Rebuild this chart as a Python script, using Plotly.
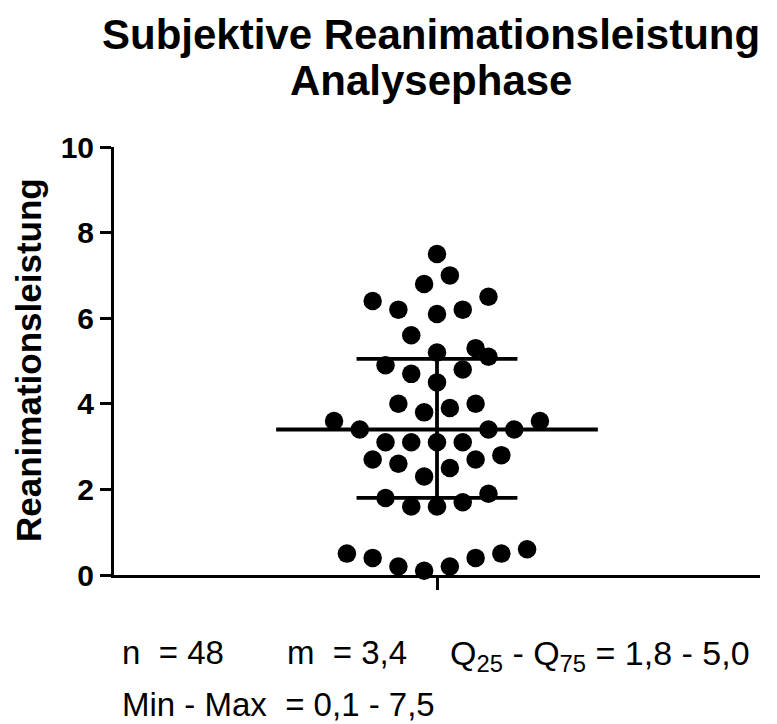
import plotly.graph_objects as go

# ---- data ----
scores = [7.5, 7.0, 6.8, 6.4, 6.2, 6.1, 6.2, 6.5,
          5.6, 5.2, 5.3, 5.1, 4.9, 4.7, 4.8, 4.5,
          4.0, 3.8, 3.9, 4.0,
          3.6, 3.4, 3.4, 3.4, 3.6,
          3.1, 3.1, 3.1, 3.1,
          2.7, 2.6, 2.7, 2.8,
          2.3, 2.5,
          1.8, 1.6, 1.6, 1.7, 1.9,
          0.5, 0.4, 0.2, 0.1, 0.2, 0.4, 0.5, 0.6]
# beeswarm column of each point (half-dot steps left/right of centre)
swarm_slot = [0, 1, -1, -5, -3, 0, 2, 4,
              -2, 0, 3, 4, -4, -2, 2, 0,
              -3, -1, 1, 3,
              -8, -6, 4, 6, 8,
              -4, -2, 0, 2,
              -5, -3, 3, 5,
              -1, 1,
              -4, -2, 0, 2, 4,
              -7, -5, -3, -1, 1, 3, 5, 7]
median_value = 3.4
q25_value = 1.8
q75_value = 5.05
y_ticks = [0, 2, 4, 6, 8, 10]

title_lines = ["Subjektive Reanimationsleistung", "Analysephase"]
y_title = "Reanimationsleistung"
stats_line1 = ["n\u00a0 = 48", "m\u00a0 = 3,4", "Q<sub>25</sub>\u00a0- Q<sub>75</sub> = 1,8 - 5,0"]
stats_line2 = "Min - Max\u00a0 = 0,1 - 7,5"

# ---- layout geometry (pixels) ----
W, H = 777, 724
L, R, T, B = 114, 777 - 760, 147, 724 - 575
PW, PH = W - L - R, H - T - B

def px(xp):
    return (xp - L) / PW

def py(yp):
    return (H - B - yp) / PH

MED_HALF = 12.5
Q_HALF = 6.25
XR = 25.1
LW = 3.8

fig = go.Figure()

# median and quartile lines
fig.add_trace(go.Scatter(x=[-MED_HALF, MED_HALF], y=[median_value, median_value],
                         mode="lines", line=dict(color="black", width=LW),
                         hoverinfo="skip", showlegend=False, cliponaxis=False))
for q in (q25_value, q75_value):
    fig.add_trace(go.Scatter(x=[-Q_HALF, Q_HALF], y=[q, q],
                             mode="lines", line=dict(color="black", width=LW),
                             hoverinfo="skip", showlegend=False, cliponaxis=False))
fig.add_trace(go.Scatter(x=[0, 0], y=[q25_value, q75_value],
                         mode="lines", line=dict(color="black", width=LW),
                         hoverinfo="skip", showlegend=False, cliponaxis=False))

# points
fig.add_trace(go.Scatter(x=swarm_slot, y=scores, mode="markers",
                         marker=dict(color="black", size=18.5, line=dict(width=0)),
                         showlegend=False, cliponaxis=False))

fig.update_layout(
    width=W, height=H,
    margin=dict(l=L, r=R, t=T, b=B, pad=0),
    paper_bgcolor="white", plot_bgcolor="white",
    showlegend=False,
    xaxis=dict(range=[-XR, XR], showgrid=False, zeroline=False,
               showline=True, linecolor="black", linewidth=3,
               tickvals=[0], ticks="outside", ticklen=12, tickwidth=3,
               tickcolor="black", showticklabels=False, fixedrange=True),
    yaxis=dict(range=[0, 10], showgrid=False, zeroline=False,
               showline=True, linecolor="black", linewidth=3,
               tickvals=y_ticks, ticks="outside", ticklen=11, tickwidth=3,
               tickcolor="black",
               tickfont=dict(family="Liberation Sans", size=30, color="black", weight="bold"),
               fixedrange=True),
)

bold = dict(family="Liberation Sans", color="black", weight="bold")
reg = dict(family="Liberation Sans", color="black", size=33)

fig.add_annotation(text=title_lines[0], xref="paper", yref="paper",
                   x=px(431), y=py(35), xanchor="center", yanchor="middle",
                   showarrow=False, font=dict(size=42, **bold))
fig.add_annotation(text=title_lines[1], xref="paper", yref="paper",
                   x=px(431), y=py(80), xanchor="center", yanchor="middle",
                   showarrow=False, font=dict(size=42, **bold))

fig.add_annotation(text=y_title, xref="paper", yref="paper",
                   x=px(28), y=py(360), xanchor="center", yanchor="middle",
                   textangle=-90, showarrow=False, font=dict(size=35, **bold))

fig.add_annotation(text=stats_line1[0], xref="paper", yref="paper",
                   x=px(120), y=py(632), xanchor="left", yanchor="top",
                   showarrow=False, font=reg)
fig.add_annotation(text=stats_line1[1], xref="paper", yref="paper",
                   x=px(285), y=py(632), xanchor="left", yanchor="top",
                   showarrow=False, font=reg)
fig.add_annotation(text=stats_line1[2], xref="paper", yref="paper",
                   x=px(448), y=py(632), xanchor="left", yanchor="top",
                   showarrow=False, font=dict(family="Liberation Sans", color="black", size=34))
fig.add_annotation(text=stats_line2, xref="paper", yref="paper",
                   x=px(120), y=py(684), xanchor="left", yanchor="top",
                   showarrow=False, font=reg)

fig.write_html("out.html")
